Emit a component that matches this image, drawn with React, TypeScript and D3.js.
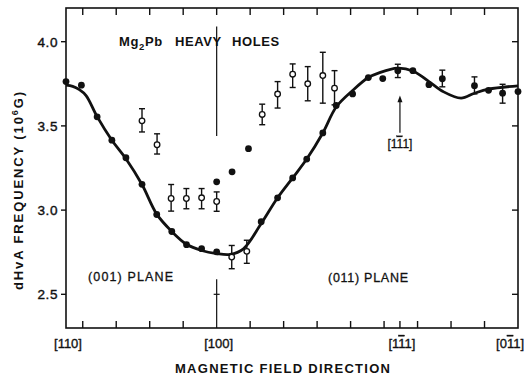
import React from 'react';
import * as d3 from 'd3';

// angle in degrees from [100]; [110] = -45, [1-11] = 54.74, [0-11] = 90
const solidAngle = [-45, -40.4, -35.7, -31.3, -27.1, -22.3, -17.9, -13.4, -9.0, -4.5, 0, 0, 4.6, 9.5, 13.3, 18.2, 22.7, 26.9, 31.7, 35.7, 40.6, 45.3, 49.6, 54.1, 58.6, 63.4, 67.4, 77.0, 81.2, 85.4, 90];
const solidFreq = [3.763, 3.742, 3.554, 3.415, 3.311, 3.153, 2.974, 2.873, 2.795, 2.771, 2.752, 3.168, 3.227, 3.365, 2.931, 3.073, 3.191, 3.303, 3.458, 3.621, 3.69, 3.787, 3.781, 3.827, 3.828, 3.745, 3.78, 3.739, 3.711, 3.694, 3.704];
const solidErrLo = [null, null, null, null, null, null, null, null, null, null, null, null, null, null, null, null, null, null, null, null, null, null, null, 3.787, null, null, 3.732, 3.69, null, 3.635, null];
const solidErrHi = [null, null, null, null, null, null, null, null, null, null, null, null, null, null, null, null, null, null, null, null, null, null, null, 3.866, null, null, 3.831, 3.791, null, 3.747, null];

const openAngle = [-22.3, -17.8, -13.6, -9.05, -4.5, 0, 4.5, 9.0, 13.6, 18.2, 22.7, 27.2, 31.7, 35.2];
const openFreq = [3.53, 3.388, 3.069, 3.069, 3.073, 3.051, 2.721, 2.755, 3.568, 3.689, 3.807, 3.75, 3.799, 3.724];
const openErrLo = [3.464, 3.333, 2.994, 3.008, 3.008, 2.993, 2.652, 2.684, 3.507, 3.606, 3.728, 3.649, 3.635, 3.625];
const openErrHi = [3.602, 3.453, 3.152, 3.128, 3.128, 3.108, 2.79, 2.821, 3.629, 3.763, 3.868, 3.852, 3.937, 3.828];

const curveAngle = [-45, -43, -41, -39, -35.7, -31.3, -27.1, -22.3, -17.9, -13.4, -9, -4.5, 0, 4, 8, 13.3, 18.2, 22.7, 26.9, 31.7, 35.7, 40.6, 45.3, 48.5, 54, 58.6, 63.4, 67.6, 73, 77, 81.2, 90];
const curveFreq = [3.742, 3.735, 3.715, 3.68, 3.555, 3.415, 3.305, 3.152, 2.976, 2.873, 2.797, 2.76, 2.742, 2.737, 2.77, 2.92, 3.073, 3.191, 3.303, 3.458, 3.612, 3.71, 3.787, 3.815, 3.843, 3.826, 3.763, 3.704, 3.665, 3.694, 3.718, 3.738];

const yTicks = [2.5, 3.0, 3.5, 4.0];
const xTicks = [-40, -30, -20, -10, 0, 10, 20, 30, 40, 50, 60, 70, 80];
const dir111 = 54.74;

const W = 525;
const H = 375;
const font = '"Liberation Sans", Arial, sans-serif';

export default function App() {
  const x = d3.scaleLinear().domain([-45, 90]).range([66, 518]);
  const y = d3.scaleLinear().domain([2.3, 4.2]).range([328, 8]);

  const line = d3.line<number>()
    .x((_, i) => x(curveAngle[i]))
    .y(d => y(d))
    .curve(d3.curveCatmullRom.alpha(0.5));

  const errBar = (a: number, lo: number, hi: number, key: string) => (
    <g key={key} stroke="#111" strokeWidth={1.4}>
      <line x1={x(a)} x2={x(a)} y1={y(lo)} y2={y(hi)} />
      <line x1={x(a) - 3} x2={x(a) + 3} y1={y(lo)} y2={y(lo)} />
      <line x1={x(a) - 3} x2={x(a) + 3} y1={y(hi)} y2={y(hi)} />
    </g>
  );

  const ax = x(dir111);

  // direction label: the middle digit carries a bar (negative index)
  const dirLabel = (pre: string, bar: string, post: string) => (
    <>
      {pre}
      {bar && <tspan style={{ textDecoration: 'overline' }}>{bar}</tspan>}
      {post}
    </>
  );

  return (
    <svg width={W} height={H} style={{ position: 'absolute', left: 0, top: 0, background: '#fff' }} fontFamily={font}>
      {/* frame */}
      <rect x={x(-45)} y={y(4.2)} width={x(90) - x(-45)} height={y(2.3) - y(4.2)} fill="none" stroke="#111" strokeWidth={1.6} />

      {/* y ticks */}
      {yTicks.map(t => (
        <g key={'y' + t}>
          <line x1={x(-45) - 5} x2={x(-45)} y1={y(t)} y2={y(t)} stroke="#111" strokeWidth={1.4} />
          <line x1={x(90) - 6} x2={x(90)} y1={y(t)} y2={y(t)} stroke="#111" strokeWidth={1.4} />
          <text x={58} y={y(t)} dy="0.36em" textAnchor="end" fontSize={13.5} fill="#111" stroke="#111" strokeWidth={0.4} letterSpacing={0.6}>
            {t.toFixed(1)}
          </text>
        </g>
      ))}

      {/* x ticks top and bottom */}
      {xTicks.map(t => (
        <g key={'x' + t} stroke="#111" strokeWidth={1.4}>
          <line x1={x(t)} x2={x(t)} y1={y(4.2)} y2={y(4.2) + 7} />
          {t !== 0 && <line x1={x(t)} x2={x(t)} y1={y(2.3)} y2={y(2.3) - 7} />}
        </g>
      ))}
      <line x1={ax} x2={ax} y1={y(2.3)} y2={y(2.3) - 7} stroke="#111" strokeWidth={1.4} />

      {/* [100] markers */}
      <line x1={x(0)} x2={x(0)} y1={y(4.09)} y2={y(3.44)} stroke="#111" strokeWidth={1.2} />
      <line x1={x(0)} x2={x(0)} y1={y(2.59)} y2={y(2.3)} stroke="#111" strokeWidth={1.2} />
      <line x1={x(0) - 3} x2={x(0) + 3} y1={y(2.5)} y2={y(2.5)} stroke="#111" strokeWidth={1.2} />

      {/* error bars */}
      {solidAngle.map((a, i) => solidErrLo[i] != null ? errBar(a, solidErrLo[i] as number, solidErrHi[i] as number, 's' + i) : null)}
      {openAngle.map((a, i) => errBar(a, openErrLo[i], openErrHi[i], 'o' + i))}

      {/* theory curve */}
      <path d={line(curveFreq) || ''} fill="none" stroke="#111" strokeWidth={2.8} strokeLinejoin="round" />

      {/* data */}
      {solidAngle.map((a, i) => (
        <circle key={'sd' + i} cx={x(a)} cy={y(solidFreq[i])} r={3.4} fill="#111" />
      ))}
      {openAngle.map((a, i) => (
        <circle key={'od' + i} cx={x(a)} cy={y(openFreq[i])} r={2.8} fill="#fff" stroke="#111" strokeWidth={1.3} />
      ))}

      {/* [1-11] arrow */}
      <line x1={ax} x2={ax} y1={y(3.46)} y2={y(3.66)} stroke="#111" strokeWidth={1.2} />
      <path d={`M${ax},${y(3.68)} L${ax - 2.5},${y(3.64)} L${ax + 2.5},${y(3.64)} Z`} fill="#111" />
      <text x={ax} y={y(3.37)} textAnchor="middle" fontSize={12} fill="#111" stroke="#111" strokeWidth={0.3}>
        {dirLabel('[1', '1', '1]')}
      </text>

      {/* annotations */}
      <text y={46} fontSize={13} fontWeight="bold" fill="#111" letterSpacing={0.6}>
        <tspan x={119}>Mg</tspan>
        <tspan fontSize={9.5} dy={3.5}>2</tspan>
        <tspan dy={-3.5}>Pb</tspan>
        <tspan x={175}>HEAVY</tspan>
        <tspan x={232}>HOLES</tspan>
      </text>
      <text x={88} y={281} fontSize={12.5} fill="#111" stroke="#111" strokeWidth={0.3} textLength={85} lengthAdjust="spacing">(001) PLANE</text>
      <text x={328} y={282} fontSize={12.5} fill="#111" stroke="#111" strokeWidth={0.3} textLength={80} lengthAdjust="spacing">(011) PLANE</text>

      {/* x direction labels */}
      {[
        { a: -45, pre: '[110', bar: '', post: ']', anchor: 'middle', dx: 2 },
        { a: 0, pre: '[100', bar: '', post: ']', anchor: 'middle', dx: 2 },
        { a: dir111, pre: '[1', bar: '1', post: '1]', anchor: 'middle', dx: 2 },
        { a: 90, pre: '[0', bar: '1', post: '1]', anchor: 'end', dx: 6 },
      ].map(l => (
        <text key={'l' + l.a} x={x(l.a) + l.dx} y={348} textAnchor={l.anchor} fontSize={13} fill="#111" stroke="#111" strokeWidth={0.35}>
          {dirLabel(l.pre, l.bar, l.post)}
        </text>
      ))}

      {/* axis titles */}
      <text x={175} y={373} fontSize={13} fontWeight="bold" fill="#111" textLength={215} lengthAdjust="spacing">
        MAGNETIC FIELD DIRECTION
      </text>
      <text transform="translate(23,290) rotate(-90)" x={0} y={0} fontSize={13} fontWeight="bold" fill="#111" textLength={198} lengthAdjust="spacing">
        dHvA  FREQUENCY  (10<tspan fontSize={9} dy={-5}>6</tspan><tspan dy={5}>G)</tspan>
      </text>
    </svg>
  );
}
